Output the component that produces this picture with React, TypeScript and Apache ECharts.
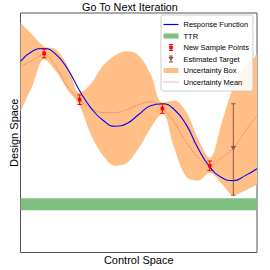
import React, { useEffect, useRef } from "react";
import * as echarts from "echarts";

// ---- data (x: control space 0..10, y: design space 0..10) ----
const X_GRID = [0, 0.5, 1, 1.5, 2, 2.5, 3, 3.5, 4, 4.5, 5, 5.5, 6, 6.5, 7, 7.5, 8, 8.5, 9, 9.5, 10];
const RESPONSE = [7.98, 8.4, 8.52, 8.27, 7.65, 6.75, 6.01, 5.51, 5.27, 5.39, 5.76, 6.13, 6.21, 5.97, 5.35, 4.36, 3.58, 3.13, 3.0, 3.21, 3.5];
const UNC_MEAN = [7.78, 8.02, 8.27, 7.74, 6.91, 6.38, 6.01, 5.84, 5.84, 5.97, 6.17, 6.3, 6.01, 5.45, 4.61, 3.99, 3.62, 3.95, 4.36, 5.06, 5.72];
const UNC_UPPER = [9.59, 9.09, 8.6, 8.48, 7.78, 6.67, 7.08, 7.82, 8.23, 8.4, 8.23, 7.45, 6.26, 6.34, 5.88, 4.77, 3.95, 5.39, 6.91, 7.74, 8.27];
const UNC_LOWER = [5.88, 6.95, 8.07, 7.57, 6.79, 6.13, 4.86, 4.03, 3.62, 3.74, 4.36, 5.19, 5.8, 4.36, 3.17, 3.0, 3.33, 2.88, 2.39, 2.59, 2.84];

const TTR_X = [0, 10];
const TTR_LOW = [1.76, 1.76];
const TTR_HIGH = [2.26, 2.26];

const SAMPLE_X = [1, 2.5, 6, 8];
const SAMPLE_Y = [8.31, 6.38, 6.01, 3.62];
const SAMPLE_ERR = [0.18, 0.2, 0.2, 0.2];

const TARGET_X = [9];
const TARGET_Y = [4.36];
const TARGET_LO = [2.39];
const TARGET_HI = [6.21];

const TITLE = "Go To Next Iteration";
const X_NAME = "Control Space";
const Y_NAME = "Design Space";

const NAMES = [
  "Response Function",
  "TTR",
  "New Sample Points",
  "Estimated Target",
  "Uncertainty Box",
  "Uncertainty Mean",
];

// ---- styles ----
const FONT = "Liberation Sans";
const BLUE = "#0000ff";
const GREEN = "#7fbf7f";
const RED = "#ff0000";
const BROWN = "#8c564b";
const ORANGE = "#ffbf86";
const MEAN_COLOR = "#f07070";

const BOX = "M0,0M15,7";
const ICON_LINE = `path://${BOX}M0,2.9h15v1.2h-15z`;
const ICON_RECT = `path://${BOX}M0,1h15v5h-15z`;
const ICON_ERR = `path://${BOX}M5.5,0h4v1h-4zM7,0h1v7h-1zM5.5,6h4v1h-4zM5.75,1.75h3.5v3.5h-3.5z`;
const ICON_TRI = `path://${BOX}M5.5,0h4v1h-4zM7,0h1v7h-1zM5.5,6h4v1h-4zM5,1.5h5l-2.5,4z`;
let dots = "";
for (let i = 0; i < 15; i += 2) dots += `M${i},3h1v1h-1z`;
const ICON_DOT = `path://${BOX}${dots}`;

function errorBarRenderer(color: string, marker: "square" | "triangle") {
  return (params: any, api: any) => {
    const x = api.value(0);
    const y = api.value(1);
    const lo = api.value(2);
    const hi = api.value(3);
    const pt = api.coord([x, y]);
    const top = api.coord([x, hi]);
    const bot = api.coord([x, lo]);
    const cap = 2.2;
    const s = { stroke: color, lineWidth: 1 };
    const children: any[] = [
      { type: "line", shape: { x1: top[0], y1: top[1], x2: bot[0], y2: bot[1] }, style: s },
      { type: "line", shape: { x1: top[0] - cap, y1: top[1], x2: top[0] + cap, y2: top[1] }, style: s },
      { type: "line", shape: { x1: bot[0] - cap, y1: bot[1], x2: bot[0] + cap, y2: bot[1] }, style: s },
    ];
    if (marker === "square") {
      children.push({
        type: "rect",
        shape: { x: pt[0] - 1.8, y: pt[1] - 1.8, width: 3.6, height: 3.6 },
        style: { fill: color },
      });
    } else {
      children.push({
        type: "polygon",
        shape: {
          points: [
            [pt[0] - 2.6, pt[1] - 2],
            [pt[0] + 2.6, pt[1] - 2],
            [pt[0], pt[1] + 2.6],
          ],
        },
        style: { fill: color },
      });
    }
    return { type: "group", children };
  };
}

export default function App() {
  const ref = useRef<HTMLDivElement>(null);

  useEffect(() => {
    if (!ref.current) return;
    const chart = echarts.init(ref.current, null, { renderer: "svg" });

    const pair = (xs: number[], ys: number[]) => xs.map((x, i) => [x, ys[i]]);
    // [y, x] rows so that the stacked (first) dimension is the y value
    const yx = (xs: number[], ys: number[]) => xs.map((x, i) => [ys[i], x]);
    const bandDiff = UNC_UPPER.map((u, i) => u - UNC_LOWER[i]);
    const ttrDiff = TTR_HIGH.map((h, i) => h - TTR_LOW[i]);

    const legendItem = (name: string, icon: string, color: string) => ({
      name,
      icon,
      itemStyle: { color, borderWidth: 0, opacity: 1 },
    });

    const hidden = { width: 0, opacity: 0 };

    chart.setOption({
      animation: false,
      title: {
        text: TITLE,
        left: 82,
        top: 1,
        padding: 0,
        textStyle: { fontFamily: FONT, fontSize: 10.8, fontWeight: "normal", color: "#000" },
      },
      grid: {
        left: 13,
        right: 13,
        top: 13,
        bottom: 14,
        show: true,
        borderColor: "#555",
        borderWidth: 1,
        backgroundColor: "transparent",
      },
      legend: {
        orient: "vertical",
        left: 161,
        top: 15,
        padding: [5.5, 4, 5, 2.5],
        itemWidth: 15,
        itemHeight: 7,
        itemGap: 3.5,
        selectedMode: false,
        borderColor: "#cccccc",
        borderWidth: 1,
        borderRadius: 2,
        backgroundColor: "rgba(255,255,255,0.85)",
        textStyle: { fontFamily: FONT, fontSize: 7.5, color: "#000" },
        data: [
          legendItem(NAMES[0], ICON_LINE, BLUE),
          legendItem(NAMES[1], ICON_RECT, GREEN),
          legendItem(NAMES[2], ICON_ERR, RED),
          legendItem(NAMES[3], ICON_TRI, BROWN),
          legendItem(NAMES[4], ICON_RECT, ORANGE),
          legendItem(NAMES[5], ICON_DOT, MEAN_COLOR),
        ],
      },
      xAxis: {
        type: "value",
        min: 0,
        max: 10,
        name: X_NAME,
        nameLocation: "middle",
        nameGap: 1.5,
        nameTextStyle: { fontFamily: FONT, fontSize: 11, color: "#000", verticalAlign: "top" },
        axisLine: { show: false },
        axisTick: { show: false },
        axisLabel: { show: false },
        splitLine: { show: false },
      },
      yAxis: {
        type: "value",
        min: 0,
        max: 10,
        name: Y_NAME,
        nameLocation: "middle",
        nameGap: 1.5,
        nameRotate: 90,
        nameTextStyle: { fontFamily: FONT, fontSize: 11, color: "#000" },
        axisLine: { show: false },
        axisTick: { show: false },
        axisLabel: { show: false },
        splitLine: { show: false },
      },
      series: [
        {
          name: "band-base",
          type: "line",
          stack: "unc",
          data: yx(X_GRID, UNC_LOWER),
          encode: { x: 1, y: 0 },
          smooth: 0.35,
          symbol: "none",
          lineStyle: hidden,
          z: 1,
          silent: true,
        },
        {
          name: NAMES[4],
          type: "line",
          stack: "unc",
          data: yx(X_GRID, bandDiff),
          encode: { x: 1, y: 0 },
          smooth: 0.35,
          symbol: "none",
          lineStyle: hidden,
          itemStyle: { color: ORANGE },
          areaStyle: { color: ORANGE, opacity: 1 },
          z: 1,
          silent: true,
        },
        {
          name: "ttr-base",
          type: "line",
          stack: "ttr",
          data: yx(TTR_X, TTR_LOW),
          encode: { x: 1, y: 0 },
          symbol: "none",
          lineStyle: hidden,
          z: 2,
          silent: true,
        },
        {
          name: NAMES[1],
          type: "line",
          stack: "ttr",
          data: yx(TTR_X, ttrDiff),
          encode: { x: 1, y: 0 },
          symbol: "none",
          lineStyle: hidden,
          itemStyle: { color: GREEN },
          areaStyle: { color: GREEN, opacity: 1 },
          z: 2,
          silent: true,
        },
        {
          name: NAMES[5],
          type: "line",
          data: pair(X_GRID, UNC_MEAN),
          smooth: 0.4,
          symbol: "none",
          itemStyle: { color: MEAN_COLOR },
          lineStyle: { color: MEAN_COLOR, width: 1, type: [1, 1] },
          z: 3,
          silent: true,
        },
        {
          name: NAMES[0],
          type: "line",
          data: pair(X_GRID, RESPONSE),
          smooth: 0.5,
          symbol: "none",
          itemStyle: { color: BLUE },
          lineStyle: { color: BLUE, width: 1.1 },
          z: 4,
          silent: true,
        },
        {
          name: NAMES[2],
          type: "custom",
          data: SAMPLE_X.map((x, i) => [x, SAMPLE_Y[i], SAMPLE_Y[i] - SAMPLE_ERR[i], SAMPLE_Y[i] + SAMPLE_ERR[i]]),
          encode: { x: 0, y: [1, 2, 3] },
          itemStyle: { color: RED },
          renderItem: errorBarRenderer(RED, "square"),
          z: 5,
          silent: true,
        },
        {
          name: NAMES[3],
          type: "custom",
          data: TARGET_X.map((x, i) => [x, TARGET_Y[i], TARGET_LO[i], TARGET_HI[i]]),
          encode: { x: 0, y: [1, 2, 3] },
          itemStyle: { color: BROWN },
          renderItem: errorBarRenderer(BROWN, "triangle"),
          z: 5,
          silent: true,
        },
      ],
    });

    return () => chart.dispose();
  }, []);

  return (
    <div
      ref={ref}
      style={{ position: "fixed", left: 0, top: 0, width: 270, height: 270, background: "#fff" }}
    />
  );
}
